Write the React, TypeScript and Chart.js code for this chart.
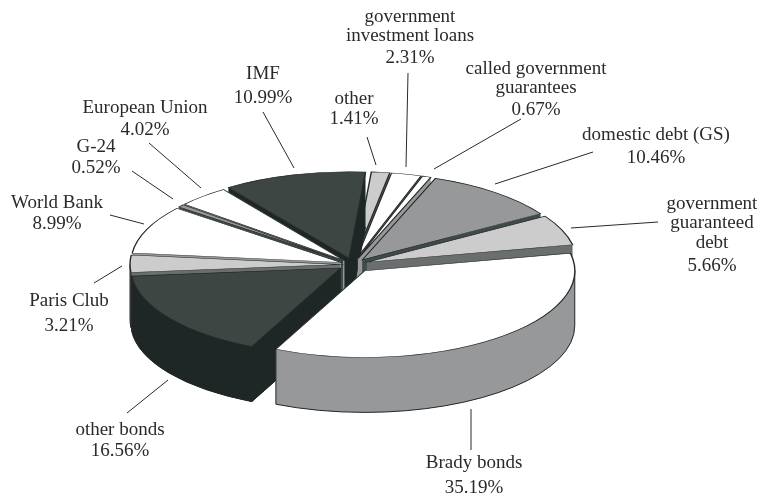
import React, { useEffect, useRef } from "react";
import { Chart, registerables } from "chart.js";

Chart.register(...registerables);

// Debt structure, clockwise from the top of the pie.
const categories = [
  ["other"],
  ["government", "investment loans"],
  ["called government", "guarantees"],
  ["domestic debt (GS)"],
  ["government", "guaranteed", "debt"],
  ["Brady bonds"],
  ["other bonds"],
  ["Paris Club"],
  ["World Bank"],
  ["G-24"],
  ["European Union"],
  ["IMF"],
];
const shares = [1.41, 2.31, 0.67, 10.46, 5.66, 35.19, 16.56, 3.21, 8.99, 0.52, 4.02, 10.99];

const LIGHT = "#cccccc", WHITE = "#ffffff", GREY = "#97989a", DARK = "#3e4644";
const topColors = [LIGHT, WHITE, WHITE, GREY, LIGHT, WHITE, DARK, LIGHT, WHITE, GREY, WHITE, DARK];
const wallColors: Record<string, string> = {
  [LIGHT]: "#6a6e6e",
  [WHITE]: "#97989a",
  [GREY]: "#3f4a4a",
  [DARK]: "#1e2626",
};

// Distance each wedge is pulled out of the pie, in unsquashed pie pixels.
const explode = [15, 15, 15, 15, 15, 19, 15, 13, 13, 13, 13, 15];

const TILT = 0.413;
const DEPTH = 55;
const EDGE = "#26292a";
const FONT = '19px "Liberation Serif"';

// Callout placement per category: text centre, one y per text line, leader end points.
const callouts = [
  { x: 354, ys: [99, 119], leader: [367, 137, 376, 165] },
  { x: 410, ys: [17, 36, 58], leader: [408, 73, 406, 167] },
  { x: 536, ys: [69, 88, 110], leader: [521, 119, 434, 169] },
  { x: 656, ys: [135, 158], leader: [593, 152, 495, 184] },
  { x: 712, ys: [204, 223, 243, 266], leader: [658, 222, 571, 228] },
  { x: 474, ys: [463, 488], leader: [471, 409, 471, 450] },
  { x: 120, ys: [430, 451], leader: [168, 380, 127, 413] },
  { x: 69, ys: [301, 326], leader: [122, 266, 94, 283] },
  { x: 57, ys: [203, 224], leader: [110, 215, 144, 224] },
  { x: 96, ys: [147, 168], leader: [132, 171, 173, 199] },
  { x: 145, ys: [108, 130], leader: [149, 143, 201, 188] },
  { x: 263, ys: [74, 98], leader: [263, 112, 294, 168] },
];

const extrudedPie = {
  id: "extrudedPie",
  beforeDatasetsDraw(chart: any) {
    const { ctx } = chart;
    const arcs = chart.getDatasetMeta(0).data as any[];
    const order = arcs
      .map((arc, i) => ({ arc, i, mid: (arc.startAngle + arc.endAngle) / 2 }))
      .sort((a, b) => Math.sin(a.mid) - Math.sin(b.mid));

    // Draws the wedge's flat face through the element itself, at a given vertical drop.
    const face = (arc: any, mid: number, i: number, drop: number, fill: string, border: number) => {
      const slice = Object.create(arc);
      slice.options = { ...arc.options, backgroundColor: fill, borderWidth: border, borderColor: EDGE, borderJoinStyle: "miter" };
      ctx.save();
      ctx.translate(arc.x, arc.y + drop);
      ctx.scale(1, TILT);
      ctx.translate(Math.cos(mid) * explode[i], Math.sin(mid) * explode[i]);
      ctx.translate(-arc.x, -arc.y);
      slice.draw(ctx);
      ctx.restore();
    };

    // Fills the extruded sides as single shapes and strokes the edges facing the viewer.
    const walls = (arc: any, mid: number, i: number) => {
      const r = arc.outerRadius;
      const hubX = arc.x + Math.cos(mid) * explode[i];
      const hubY = arc.y + Math.sin(mid) * explode[i] * TILT;
      const rimX = (t: number) => hubX + Math.cos(t) * r;
      const rimY = (t: number) => hubY + Math.sin(t) * r * TILT;
      const { startAngle: a, endAngle: b } = arc;
      const from = Math.max(a, 0);
      const to = Math.min(b, Math.PI);

      ctx.save();
      ctx.fillStyle = wallColors[topColors[i]];
      for (const t of [a, b]) {
        ctx.beginPath();
        ctx.moveTo(hubX, hubY);
        ctx.lineTo(rimX(t), rimY(t));
        ctx.lineTo(rimX(t), rimY(t) + DEPTH);
        ctx.lineTo(hubX, hubY + DEPTH);
        ctx.closePath();
        ctx.fill();
      }
      face(arc, mid, i, DEPTH, wallColors[topColors[i]], 0);
      if (from < to) {
        ctx.beginPath();
        ctx.ellipse(hubX, hubY, r, r * TILT, 0, from, to);
        ctx.ellipse(hubX, hubY + DEPTH, r, r * TILT, 0, to, from, true);
        ctx.closePath();
        ctx.fill();
      }

      ctx.strokeStyle = EDGE;
      ctx.lineWidth = 1;
      const radial = (t: number) => {
        ctx.beginPath();
        ctx.moveTo(hubX, hubY + DEPTH);
        ctx.lineTo(rimX(t), rimY(t) + DEPTH);
        ctx.stroke();
      };
      if (Math.cos(a) < 0) radial(a);
      if (Math.cos(b) > 0) radial(b);

      if (from < to) {
        ctx.beginPath();
        ctx.ellipse(hubX, hubY + DEPTH, r, r * TILT, 0, from, to);
        ctx.stroke();
        for (const t of [from, to]) {
          ctx.beginPath();
          ctx.moveTo(rimX(t), rimY(t));
          ctx.lineTo(rimX(t), rimY(t) + DEPTH);
          ctx.stroke();
        }
      }
      ctx.restore();
    };

    for (const { arc, i, mid } of order) {
      walls(arc, mid, i);
      face(arc, mid, i, 0, topColors[i], 1.4);
    }
    return false;
  },
  // Dataset hooks stop firing once the default pass is cancelled, so callouts go in afterDraw.
  afterDraw(chart: any) {
    const { ctx } = chart;
    ctx.save();
    ctx.font = FONT;
    ctx.fillStyle = "#2a2a2a";
    ctx.strokeStyle = "#2a2a2a";
    ctx.lineWidth = 1;
    ctx.textAlign = "center";
    ctx.textBaseline = "middle";
    callouts.forEach((c, i) => {
      const [x1, y1, x2, y2] = c.leader;
      ctx.beginPath();
      ctx.moveTo(x1, y1);
      ctx.lineTo(x2, y2);
      ctx.stroke();
      const lines = [...categories[i], `${shares[i].toFixed(2)}%`];
      lines.forEach((text, n) => ctx.fillText(text, c.x, c.ys[n]));
    });
    ctx.restore();
  },
};

export default function App() {
  const canvas = useRef<HTMLCanvasElement>(null);

  useEffect(() => {
    const chart = new Chart(canvas.current!, {
      type: "pie",
      data: {
        labels: categories.map((lines) => lines.join(" ")),
        datasets: [{ data: shares, backgroundColor: topColors, radius: 210 }],
      },
      options: {
        responsive: false,
        animation: false,
        rotation: 4.5,
        layout: { padding: { left: 0, right: 55, top: 34, bottom: 0 } },
        plugins: { legend: { display: false }, tooltip: { enabled: false } },
      },
      plugins: [extrudedPie],
    } as any);
    return () => chart.destroy();
  }, []);

  return (
    <div style={{ position: "fixed", left: 0, top: 0, width: 761, height: 495, background: "#fff" }}>
      <canvas ref={canvas} width={761} height={495} style={{ display: "block" }} />
    </div>
  );
}
